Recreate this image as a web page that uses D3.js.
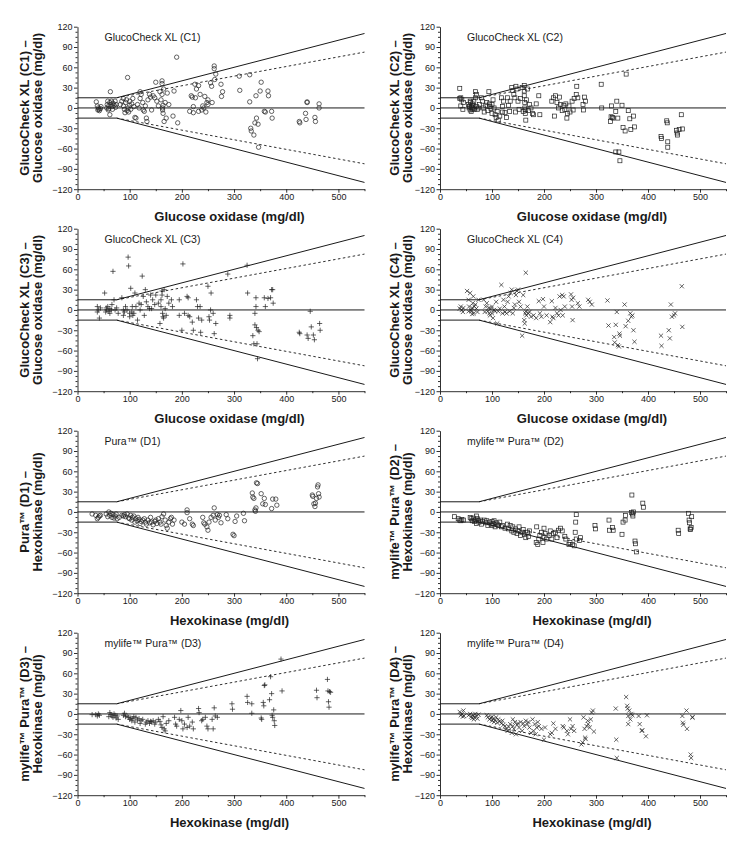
<!DOCTYPE html>
<html><head><meta charset="utf-8">
<script src="https://cdn.jsdelivr.net/npm/d3@7"></script>
<style>
html,body{margin:0;padding:0;background:#fff;}
svg{display:block;font-family:"Liberation Sans",Arial,Helvetica,sans-serif;}
</style></head><body>
<script>
// ---------- DATA ----------
const panelTitles = ["GlucoCheck XL (C1)","GlucoCheck XL (C2)","GlucoCheck XL (C3)","GlucoCheck XL (C4)",
  "Pura\u2122 (D1)","mylife\u2122 Pura\u2122 (D2)","mylife\u2122 Pura\u2122 (D3)","mylife\u2122 Pura\u2122 (D4)"];
const yTitleTop = ["GlucoCheck XL (C1) \u2013","GlucoCheck XL (C2) \u2013","GlucoCheck XL (C3) \u2013","GlucoCheck XL (C4) \u2013",
  "Pura\u2122 (D1) \u2013","mylife\u2122 Pura\u2122 (D2) \u2013","mylife\u2122 Pura\u2122 (D3) \u2013","mylife\u2122 Pura\u2122 (D4) \u2013"];
const referenceNames = ["Glucose oxidase (mg/dl)","Glucose oxidase (mg/dl)","Glucose oxidase (mg/dl)","Glucose oxidase (mg/dl)",
  "Hexokinase (mg/dl)","Hexokinase (mg/dl)","Hexokinase (mg/dl)","Hexokinase (mg/dl)"];
const markerTypes = ["circle","square","plus","cross","circle","square","plus","cross"];

const xTicks = [0,100,200,300,400,500];
const xMinorTicks = [50,150,250,350,450,550];
const yTicks = [-120,-90,-60,-30,0,30,60,90,120];
const xDomain = [0,550];
const yDomain = [-120,120];

// ISO limit lines (x, difference)
const limitSolidUpper = [[0,15],[75,15],[550,110]];
const limitSolidLower = [[0,-15],[75,-15],[550,-110]];
const limitDashedUpper = [[75,15],[550,82.5]];
const limitDashedLower = [[75,-15],[550,-82.5]];
const zeroLine = [[0,0],[550,0]];

const c1 = [[36,9],[38,3],[40,0],[41,-2],[42,-4],[44,-1],[45,2],[39,-3],
[57,5],[58,10],[60,3],[60,-1],[62,8],[63,24],[62,-10],[64,5],[65,10],[66,2],[68,7],[70,4],[72,10],[74,5],[56,0],[59,-3],[67,-2],[73,1],
[82,5],[85,10],[88,3],[90,-2],[92,8],[94,12],[95,-4],[96,45],[97,0],[98,-6],[100,4],[100,10],[102,-2],[104,6],[106,14],[108,2],[110,-14],[112,-15],[88,14],[91,-7],
[115,5],[118,0],[120,14],[122,20],[125,8],[128,-5],[130,3],[132,-15],[133,-20],[135,12],[138,20],[140,16],[142,-3],[145,18],[148,15],[150,38],[152,10],[155,3],[158,24],[160,12],[162,40],[162,36],[162,20],[163,-3],[163,0],[164,-8],[164,4],[165,28],[166,-20],[168,8],[170,-15],[172,22],[175,5],[183,-12],[185,25],[190,75],[192,-22],[120,24],[126,-3],
[215,-5],[218,18],[220,16],[222,2],[222,-7],[225,35],[226,15],[228,28],[232,33],[235,20],[238,-3],[240,3],[242,0],[244,17],[246,-6],[248,8],[250,5],[255,37],[257,32],[258,8],[262,62],[262,58],[263,42],[265,50],[275,35],[276,17],[278,24],[232,-5],[250,12],
[310,47],[311,26],[330,49],[330,9],[332,-30],[333,-34],[338,-40],[340,-22],[342,18],[343,-15],[346,-24],[347,-58],[350,25],[352,38],[358,-5],[360,-6],[365,25],[366,18],[372,-5],[373,-15],[425,-20],[426,-22],[437,-8],[438,-17],[440,9],[440,8],[455,-14],[456,-20],[463,6],[463,0]];

const c2 = [[38,29],[38,14],[40,3],[42,12],[44,-2],[45,8],[40,15],
[55,5],[56,0],[57,2],[58,-3],[59,8],[60,-5],[60,3],[61,1],[62,6],[63,-1],[64,4],[65,10],[66,-2],[68,15],[68,24],[70,20],[70,2],[72,-2],[74,0],[76,5],[58,10],[62,-2],
[80,15],[82,10],[84,0],[85,-6],[88,4],[90,8],[92,-4],[94,24],[95,6],[96,2],[98,-1],[100,5],[100,-8],[102,12],[104,0],[106,-10],[108,-14],[110,-5],[112,-18],[115,-12],[118,15],[120,2],[120,-6],[122,10],[125,-7],[128,-14],[130,15],[132,4],[134,-5],[135,10],
[138,30],[140,26],[142,20],[144,15],[145,-6],[146,32],[148,28],[150,10],[152,-2],[155,14],[158,30],[160,-5],[162,33],[162,25],[162,18],[163,8],[163,0],[164,-3],[164,-8],[165,-18],[166,12],[168,28],[170,-4],[172,5],[175,0],[178,-8],[180,-10],[185,6],[190,18],[192,-10],
[215,10],[218,15],[220,-12],[222,18],[225,8],[228,0],[230,16],[232,5],[235,-4],[238,4],[240,-2],[242,6],[244,-15],[245,-8],[248,3],[250,-6],[254,10],[256,-3],[258,14],[262,20],[263,32],[265,15],[275,5],[276,-3],[278,16],[280,10],
[310,35],[311,0],[328,-20],[329,-13],[330,3],[332,-14],[333,-15],[338,-5],[338,-65],[340,10],[342,-15],[344,-65],[346,-78],[350,4],[352,-29],[356,-34],[358,50],[362,-4],[365,-16],[367,-32],[372,-12],[374,-28],
[425,-42],[426,-45],[436,-19],[437,-22],[438,-50],[438,-58],[455,-33],[456,-37],[457,-40],[460,-32],[464,-10],[466,-31]];

const c3 = [[38,5],[38,-3],[40,0],[42,-12],[44,3],[52,25],[54,-3],[55,3],[56,0],[58,5],[60,-2],[62,2],[62,-5],[65,0],[66,8],[68,57],[70,15],[72,0],[75,3],[78,-5],
[85,18],[88,0],[88,-8],[90,-3],[92,5],[95,0],[97,78],[98,65],[100,-5],[100,-10],[102,32],[104,-3],[105,5],[106,-8],[108,-5],[110,25],[112,5],[115,-15],[118,10],[120,0],[122,8],[124,50],[126,20],[128,-8],[130,30],[132,12],[135,5],[138,2],[140,22],[142,2],[144,15],[148,8],[150,22],[155,10],[158,-20],[160,15],[160,5],[162,28],[162,22],[163,-5],[164,-10],[165,-12],[166,30],[168,2],[170,-8],[172,20],[175,10],[180,15],[182,5],[195,-8],[195,15],[200,-30],[202,68],[205,-5],
[210,20],[212,18],[212,-8],[215,-10],[220,-18],[222,-30],[228,15],[230,5],[232,-12],[235,5],[236,-33],[238,-15],[250,35],[252,-10],[253,-15],[255,0],[256,25],[260,-5],[262,-35],[265,-20],[288,53],[292,-8],[292,-12],
[325,66],[326,25],[336,-38],[338,-50],[340,-22],[340,-5],[342,18],[342,5],[343,-26],[344,-50],[345,-72],[346,-30],[348,-32],[358,18],[360,5],[365,17],[370,18],[372,30],[374,30],[375,10],
[425,-33],[426,-35],[440,-37],[442,-42],[446,-2],[448,-25],[452,-37],[454,-44],[464,-20],[465,-30]];

const c4 = [[38,2],[40,5],[42,0],[44,-3],[45,3],[52,28],[55,15],[56,5],[58,25],[60,-2],[60,0],[62,3],[63,10],[64,20],[65,-5],[66,5],[68,8],[70,2],[72,-3],[74,15],[55,-2],[62,-6],
[84,15],[86,-3],[88,5],[90,10],[92,-2],[94,3],[95,-5],[96,-8],[98,2],[100,-5],[100,5],[102,-12],[104,0],[106,-2],[108,12],[110,-20],[112,-2],[115,2],[118,37],[120,-5],[122,15],[124,5],[125,-3],[128,-5],[130,12],[132,20],[134,-2],[136,25],[138,30],[140,-5],[142,3],[144,8],[146,22],[148,28],[150,30],[152,12],[155,5],[158,-38],[160,22],[162,-15],[163,-20],[164,-5],[165,55],[165,-2],[166,-8],[168,5],[170,-5],[172,-3],[175,-10],[180,-8],[185,-12],
[190,13],[192,-5],[195,-10],[198,16],[200,5],[205,-8],[212,-18],[215,13],[216,-10],[218,-12],[222,3],[225,-5],[228,-8],[230,20],[232,0],[235,22],[236,-8],[238,20],[240,5],[252,23],[253,15],[254,5],[255,-15],[256,18],[265,10],[268,5],[285,15],[288,12],[292,8],
[322,14],[324,-23],[335,-40],[336,-48],[338,-22],[340,-3],[342,-52],[344,-54],[345,-35],[346,-38],[355,8],[357,-24],[362,-16],[366,-5],[368,-10],[370,-8],[372,-30],[374,-47],
[425,-38],[426,-53],[440,-30],[442,-42],[444,8],[446,-10],[450,-8],[452,-5],[465,35],[466,-25]];

const d1 = [[28,-3],[35,-5],[38,-10],[40,-8],[42,-6],[44,-5],[55,-3],[58,-7],[60,0],[62,-5],[64,-2],[66,-8],[68,-4],[70,-9],[72,-6],[74,-3],[76,-10],[80,-8],[85,-5],[88,-6],[90,-4],[92,-7],[95,-3],[98,-9],
[100,-10],[102,-5],[104,-12],[105,-8],[108,-6],[110,-15],[112,-10],[114,-13],[116,-8],[118,-11],[120,-17],[122,-14],[125,-12],[128,-10],[130,-15],[132,-18],[135,-12],[138,-16],[140,-8],[142,-15],[145,-19],[148,-14],[150,-12],[152,-17],[155,-10],[158,-15],[160,-18],[162,-7],[165,-3],[168,-12],[170,-20],[172,-24],[175,-15],[178,-10],[180,-8],[182,-18],[185,-12],
[200,-15],[205,-18],[210,3],[210,-1],[215,-10],[220,-18],[222,-20],[240,-8],[242,-16],[244,-18],[248,-22],[250,-27],[252,-15],[256,-8],[260,-5],[262,6],[264,-12],[268,-4],[270,-8],[272,-5],[275,-16],[285,-4],[288,-10],[298,-33],[300,-35],[302,-14],[305,-6],[318,-2],[320,-13],
[335,28],[336,22],[338,20],[340,3],[341,1],[342,6],[343,43],[345,42],[352,27],[355,12],[358,20],[360,11],[372,5],[374,19],[380,19],[382,10],
[450,25],[451,23],[453,12],[455,8],[456,13],[458,20],[460,37],[461,40],[462,27],[463,22]];

const d2 = [[28,-7],[35,-10],[38,-12],[40,-13],[42,-11],[45,-12],[58,-8],[60,-10],[62,-13],[64,-9],[66,-14],[68,-12],[70,-6],[70,-17],[72,-10],[74,-13],[75,-15],[78,-12],[80,-18],[82,-14],[85,-12],[88,-16],[90,-13],[92,-20],[95,-15],[98,-18],[100,-14],[100,-20],[102,-17],[104,-13],[106,-22],[108,-16],[110,-18],[112,-20],[115,-15],[118,-22],[120,-20],[125,-24],[130,-18],[132,-25],[135,-20],[138,-28],[140,-22],[142,-30],[145,-25],[148,-32],[150,-28],[152,-22],[155,-35],[158,-30],[160,-26],[162,-33],[165,-38],[168,-30],[170,-36],[172,-28],
[185,-45],[186,-22],[188,-48],[190,-40],[192,-35],[195,-30],[198,-45],[200,-38],[200,-24],[202,-32],[205,-40],[210,-35],[212,-28],[215,-40],[218,-32],[222,-30],[225,-38],[228,-27],[232,-24],[235,-28],[240,-36],[242,-40],[248,-48],[250,-45],[255,-48],[258,-50],[260,-30],[261,-15],[262,-4],[262,-40],[268,-42],[270,-38],
[298,-20],[299,-25],[325,-12],[326,-27],[332,-23],[333,-27],[350,-33],[352,-15],[356,-12],[357,-5],[368,-1],[369,25],[370,-3],[371,-6],[372,0],[375,-43],[376,-47],[378,-59],[390,13],[391,7],
[458,-27],[459,-32],[478,-2],[479,-12],[480,-16],[481,-25],[482,-26],[483,-23],[484,-7]];

const d3pts = [[28,-1],[35,-1],[38,-3],[40,0],[42,-2],[60,-4],[62,2],[64,-1],[66,-3],[68,-5],[70,0],[72,-2],[74,-6],[76,-3],[78,-8],[88,-2],[90,1],[92,-4],[95,-3],[98,-5],[100,-8],[102,-6],[104,-10],[106,-7],[108,-4],[110,-12],[112,-5],[115,-9],[118,-7],[120,-14],[122,-10],[125,-8],[130,-15],[132,-12],[135,-10],[138,-14],[140,-11],[142,-12],[145,-10],[148,-15],[150,-12],[155,-8],[158,-11],[160,-16],[162,-20],[164,-4],[166,-22],[168,-25],[170,-14],[175,-10],
[186,-5],[188,-15],[190,-18],[195,-8],[198,5],[200,-10],[202,-22],[205,-15],[210,-20],[212,-5],[215,-18],[220,-12],[222,-22],[232,8],[233,2],[238,-10],[240,-8],[245,-5],[248,-18],[250,-22],[258,-8],[260,-22],[262,9],[264,-3],[268,-5],
[296,15],[297,7],[325,26],[326,17],[334,15],[334,1],[352,-6],[353,-8],[356,17],[357,12],[358,42],[359,43],[368,21],[370,55],[372,30],[373,-2],[374,-5],[376,6],[377,-10],[378,-17],[390,81],[392,34],
[458,35],[459,24],[479,51],[480,34],[481,18],[482,10],[483,33],[485,32]];

const d4 = [[38,3],[40,-2],[42,0],[44,-4],[45,5],[46,-3],[55,-2],[58,0],[60,-4],[62,-6],[64,-2],[66,-5],[68,0],[70,-3],[72,-7],[74,-1],[65,-8],
[90,-2],[92,-5],[95,-8],[98,-6],[100,-4],[100,-10],[102,-7],[104,-12],[106,-9],[108,-5],[110,-13],[112,-8],[115,-11],[118,-14],[120,-10],[122,-16],[125,-18],[128,-22],[130,-25],[132,-19],[135,-15],[138,-28],[140,-8],[140,-18],[142,-22],[144,-12],[146,-30],[148,-16],[150,-14],[152,-20],[155,-12],[158,-25],[160,-14],[162,-18],[165,-10],[168,-15],[170,-12],[172,-20],[175,-28],[178,-8],[180,-25],[182,-15],[184,-30],[186,-20],[188,-12],[190,-18],[195,-22],[200,-38],[202,-20],
[212,-30],[215,-28],[218,-14],[222,-22],[236,-18],[238,-20],[244,-25],[246,-30],[250,-8],[252,-22],[255,-18],[258,-25],[272,-45],[274,-42],[276,-5],[278,-22],[279,-35],[280,-37],[282,-18],[284,-10],[285,-15],[288,-20],[290,-8],[292,2],[294,5],[296,-26],
[338,8],[339,-38],[340,-65],[358,25],[360,12],[361,8],[362,-3],[362,-15],[364,5],[366,-8],[368,0],[370,-2],[382,-3],[384,-15],[388,-25],[389,-24],[396,-33],[398,-2],
[466,-3],[467,-13],[468,-16],[474,5],[475,-22],[482,-60],[483,-65],[485,-5],[486,-5]];

const panelData = [c1,c2,c3,c4,d1,d2,d3pts,d4];

// ---------- LAYOUT ----------
const W = 748, H = 849;
const cols = [{x0:77.5, w:287, t1:-49, t2:-35.5},{x0:440, w:286, t1:-41.5, t2:-28}];
const rowTop0 = 26.7, rowStep = 202, plotH = 162.5;
const ink = "#1a1a1a";

const svg = d3.select("body").append("svg").attr("width",W).attr("height",H);
svg.append("rect").attr("width",W).attr("height",H).attr("fill","#fff");

const markerPath = {
  plus: "M-2.6,0H2.6M0,-2.6V2.6",
  cross: "M-2.1,-2.1L2.1,2.1M-2.1,2.1L2.1,-2.1"
};

panelData.forEach((pts,i)=>{
  const c = cols[i%2];
  const top = rowTop0 + Math.floor(i/2)*rowStep;
  const x = d3.scaleLinear().domain(xDomain).range([c.x0, c.x0+c.w]);
  const y = d3.scaleLinear().domain(yDomain).range([top+plotH, top]);
  const g = svg.append("g");

  // axes
  const yAx = g.append("g").attr("transform",`translate(${c.x0},0)`)
    .call(d3.axisLeft(y).tickValues(yTicks).tickSize(3.5).tickSizeOuter(0).tickPadding(1.5));
  const yMinor = d3.range(-120,121,7.5).filter(v=>v%30!==0);
  g.append("g").attr("transform",`translate(${c.x0},0)`)
    .call(d3.axisLeft(y).tickValues(yMinor).tickSize(2).tickFormat(""))
    .call(s=>s.select(".domain").remove());
  const xAx = g.append("g").attr("transform",`translate(0,${top+plotH})`)
    .call(d3.axisBottom(x).tickValues(xTicks).tickSize(3.5).tickSizeOuter(0).tickPadding(1));
  g.append("g").attr("transform",`translate(0,${top+plotH})`)
    .call(d3.axisBottom(x).tickValues(xMinorTicks).tickSize(2).tickFormat(""))
    .call(s=>s.select(".domain").remove());
  g.selectAll(".domain, .tick line").attr("stroke",ink).attr("stroke-width",0.9);
  g.selectAll(".tick text").attr("font-size","9px").attr("fill",ink)
    .attr("font-family","Liberation Sans, Arial, sans-serif");

  // reference lines
  const line = d3.line().x(d=>x(d[0])).y(d=>y(d[1]));
  [limitSolidUpper,limitSolidLower,zeroLine].forEach(L=>{
    g.append("path").attr("d",line(L)).attr("fill","none").attr("stroke",ink).attr("stroke-width",1);
  });
  [limitDashedUpper,limitDashedLower].forEach(L=>{
    g.append("path").attr("d",line(L)).attr("fill","none").attr("stroke",ink)
      .attr("stroke-width",0.9).attr("stroke-dasharray","2.5,2.5");
  });

  // points
  const type = markerTypes[i];
  const pg = g.append("g").attr("fill","none").attr("stroke","#222").attr("stroke-width",0.7);
  if(type==="circle"){
    pg.selectAll("circle").data(pts).join("circle")
      .attr("cx",d=>x(d[0])).attr("cy",d=>y(d[1])).attr("r",2.2);
  } else if(type==="square"){
    pg.selectAll("rect").data(pts).join("rect")
      .attr("x",d=>x(d[0])-2).attr("y",d=>y(d[1])-2).attr("width",4).attr("height",4);
  } else {
    pg.selectAll("path").data(pts).join("path")
      .attr("transform",d=>`translate(${x(d[0])},${y(d[1])})`).attr("d",markerPath[type]);
  }

  // panel title
  g.append("text").attr("x",c.x0+27).attr("y",top+14).attr("font-size","10.5px").attr("fill",ink)
    .text(panelTitles[i]);

  // y title (two lines)
  const cy = top+plotH/2;
  [[yTitleTop[i],c.t1],[referenceNames[i],c.t2]].forEach(([t,off])=>{
    g.append("text").attr("transform",`translate(${c.x0+off},${cy}) rotate(-90)`)
      .attr("text-anchor","middle").attr("font-size","13px").attr("font-weight","bold").attr("fill",ink)
      .text(t);
  });

  // x title
  g.append("text").attr("x",c.x0+152).attr("y",top+plotH+31.5).attr("text-anchor","middle")
    .attr("font-size","13px").attr("font-weight","bold").attr("fill",ink).text(referenceNames[i]);
});
</script>
</body></html>
